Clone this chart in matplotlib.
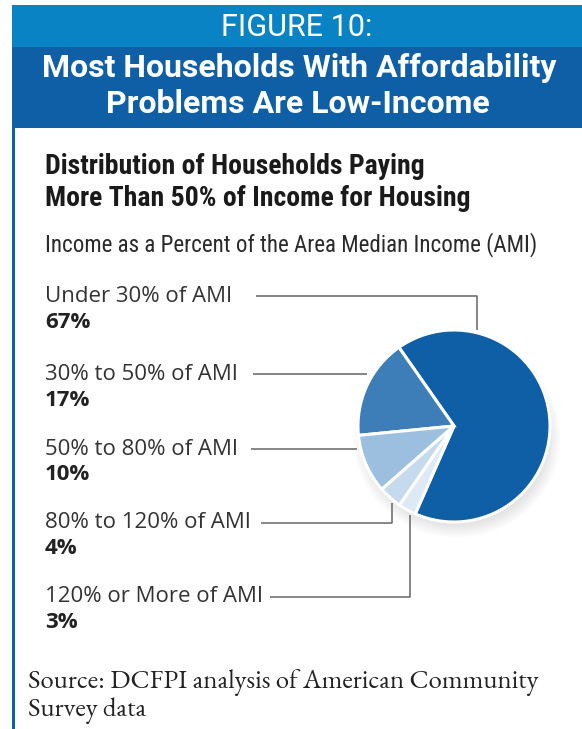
import matplotlib.pyplot as plt
from matplotlib.patches import Rectangle, Ellipse

# share of households paying >50% of income for housing, by income band
categories = ['Under 30% of AMI', '30% to 50% of AMI', '50% to 80% of AMI',
              '80% to 120% of AMI', '120% or More of AMI']
shares = [67, 17, 10, 4, 3]
share_labels = ['67%', '17%', '10%', '4%', '3%']
slice_colors = ['#0f5fa6', '#3d7db8', '#9cbfe0', '#c6daee', '#dde9f5']

W, H = 582, 729
fig = plt.figure(figsize=(W / 100, H / 100), dpi=100)
ax = fig.add_axes([0, 0, 1, 1])


def Y(y):
    # pixel rows counted from the top
    return H - y


head = ['Roboto', 'DejaVu Sans']
cond = ['Roboto Condensed', 'DejaVu Sans']
sans = ['Open Sans', 'DejaVu Sans']
serif = ['EB Garamond', 'Liberation Serif', 'DejaVu Serif']

# header bands
ax.add_patch(Rectangle((12, Y(47)), W - 12, 42, color='#0a83c4', lw=0))
ax.add_patch(Rectangle((12, Y(128)), W - 12, 81, color='#0f5fa6', lw=0))
# left rule
ax.add_patch(Rectangle((12, 0), 2.5, Y(128), color='#0f5fa6', lw=0))

ax.text(297, Y(27), 'FIGURE 10:', color='white', fontsize=22, family=head,
        ha='center', va='center')
ax.text(299, Y(68), 'Most Households With Affordability', color='white',
        fontsize=23, fontweight='bold', family=head, ha='center', va='center')
ax.text(298, Y(104), 'Problems Are Low-Income', color='white',
        fontsize=23, fontweight='bold', family=head, ha='center', va='center')

ax.text(45, Y(166), 'Distribution of Households Paying', color='#1a1a1a',
        fontsize=20, fontweight='bold', family=cond, ha='left', va='center')
ax.text(45, Y(198), 'More Than 50% of Income for Housing', color='#1a1a1a',
        fontsize=20, fontweight='bold', family=cond, ha='left', va='center')
ax.text(45, Y(245), 'Income as a Percent of the Area Median Income (AMI)',
        color='#2a2a2a', fontsize=16.6, family=cond, ha='left', va='center')

# soft shadow under the pie
cx, cy, r = 454, 426, 96
for k in range(6):
    ax.add_patch(Ellipse((cx + 3, Y(cy + 12)), 2 * r + 14 - 5 * k,
                         2 * r + 6 - 5 * k, color='#7a7a7a', alpha=0.035, lw=0))

ax.pie(shares, colors=slice_colors, startangle=246.2, counterclock=True,
       center=(cx, Y(cy)), radius=r, frame=True,
       wedgeprops=dict(edgecolor='white', linewidth=2.2))
ax.set_xlim(0, W)
ax.set_ylim(0, H)
ax.set_aspect('equal')
ax.axis('off')

# labels and leader lines
label_y = [296, 374, 449, 523, 597]
text_end = [256, 253, 251, 261, 270]
leaders = [
    [(477, 296), (477, 330)],
    [(367, 374)],
    [(357, 449)],
    [(392, 523), (392, 503)],
    [(410, 597), (410, 515)],
]
for cat, lab, yy, x0, pts in zip(categories, share_labels, label_y,
                                 text_end, leaders):
    ax.text(45, Y(yy), cat, color='#333333', fontsize=16, family=sans,
            ha='left', va='center')
    ax.text(45, Y(yy + 26), lab, color='#222222', fontsize=16,
            fontweight='bold', family=sans, ha='left', va='center')
    xs = [x0] + [p[0] for p in pts]
    ys = [Y(yy)] + [Y(p[1]) for p in pts]
    ax.plot(xs, ys, color='#666666', lw=1.1, solid_capstyle='butt')

ax.text(28, Y(682), 'Source: DCFPI analysis of American Community',
        color='#222222', fontsize=19.3, family=serif, ha='left', va='center')
ax.text(28, Y(711), 'Survey data', color='#222222', fontsize=19.3,
        family=serif, ha='left', va='center')

fig.savefig('out.png', dpi=100, facecolor='white')
